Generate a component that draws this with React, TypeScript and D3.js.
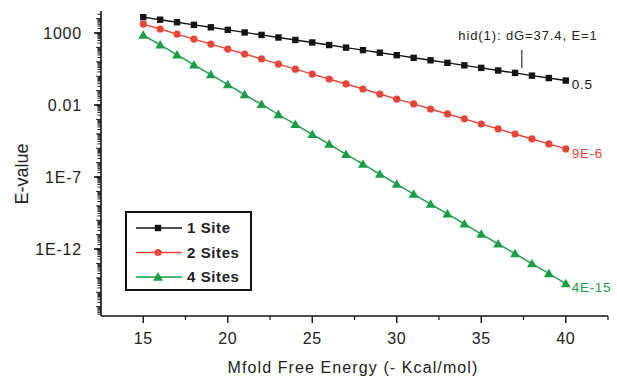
import React from 'react';
import * as d3 from 'd3';

const energies = [15, 16, 17, 18, 19, 20, 21, 22, 23, 24, 25, 26, 27, 28, 29, 30, 31, 32, 33, 34, 35, 36, 37, 38, 39, 40];

const oneSite = [12600, 8400, 5600, 3700, 2500, 1660, 1100, 740, 490, 330, 220, 146, 97, 65, 43, 29, 19, 12.8, 8.5, 5.7, 3.8, 2.5, 1.7, 1.1, 0.75, 0.5];
const twoSites = [4200, 1900, 840, 380, 170, 77, 35, 16, 7, 3.1, 1.4, 0.64, 0.29, 0.13, 0.058, 0.026, 0.012, 0.0053, 0.0024, 0.0011, 4.8e-4, 2.2e-4, 9.7e-5, 4.4e-5, 2.0e-5, 9e-6];
const fourSites = [720, 150, 30, 6.2, 1.3, 0.26, 0.052, 0.011, 2.2e-3, 4.5e-4, 9.1e-5, 1.9e-5, 3.8e-6, 7.8e-7, 1.6e-7, 3.2e-8, 6.6e-9, 1.3e-9, 2.8e-10, 5.6e-11, 1.1e-11, 2.3e-12, 4.8e-13, 9.8e-14, 2.0e-14, 4e-15];

const seriesNames = ['1 Site', '2 Sites', '4 Sites'];
const endLabels = ['0.5', '9E-6', '4E-15'];
const xTicks = [15, 20, 25, 30, 35, 40];
const yTicks = [1000, 0.01, 1e-7, 1e-12];
const yTickLabels = ['1000', '0.01', '1E-7', '1E-12'];

const colors = ['#141414', '#e8453a', '#1a9e48'];
const font = '"Liberation Sans", Arial, sans-serif';

const Marker = ({ kind, x, y, color }: { kind: number; x: number; y: number; color: string }) => {
    if (kind === 0) return <rect x={x - 3.2} y={y - 3.2} width={6.4} height={6.4} fill={color} />;
    if (kind === 1) return <circle cx={x} cy={y} r={3.6} fill={color} />;
    const s = d3.symbol().type(d3.symbolTriangle).size(42)();
    return <path d={s as string} transform={`translate(${x},${y + 0.8})`} fill={color} />;
};

export default function App() {
    const width = 617, height = 379;
    const x = d3.scaleLinear().domain([12.5, 42.5]).range([101, 608]);
    const y = d3.scaleLog().domain([Math.pow(10, -16.65), Math.pow(10, 4.46)]).range([316, 12]);
    const data = [oneSite, twoSites, fourSites];

    const line = d3.line<number>()
        .x((_, i) => x(energies[i]))
        .y(d => y(d));

    // minor ticks on the log axis
    const minor: { v: number; len: number }[] = [];
    for (let e = -17; e <= 4; e++) {
        for (let m = 1; m <= 9; m++) {
            const v = m * Math.pow(10, e);
            const yy = y(v);
            if (yy < 12 || yy > 316) continue;
            minor.push({ v, len: m === 1 ? 5 : 3.5 });
        }
    }
    const xMinor = [17.5, 22.5, 27.5, 32.5, 37.5, 42.5];

    return (
        <svg width={width} height={height} style={{ position: 'fixed', left: 0, top: 0, display: 'block', background: '#fff' }} fontFamily={font}>
            {/* axes */}
            <line x1={101} x2={101} y1={11} y2={316} stroke="#111" strokeWidth={1.6} />
            <line x1={101} x2={608} y1={316} y2={316} stroke="#111" strokeWidth={1.6} />
            {minor.map((t, i) => (
                <line key={i} x1={101 - t.len} x2={101} y1={y(t.v)} y2={y(t.v)} stroke="#222" strokeWidth={1} />
            ))}
            {yTicks.map((t, i) => (
                <g key={i}>
                    <line x1={94} x2={101} y1={y(t)} y2={y(t)} stroke="#111" strokeWidth={1.6} />
                    <text x={82} y={y(t)} dy="0.35em" textAnchor="end" fontSize={16} letterSpacing={0.8} fill="#222">{yTickLabels[i]}</text>
                </g>
            ))}
            {xTicks.map(t => (
                <g key={t}>
                    <line x1={x(t)} x2={x(t)} y1={316} y2={323} stroke="#111" strokeWidth={1.4} />
                    <text x={x(t)} y={338} dy="0.35em" textAnchor="middle" fontSize={16} letterSpacing={0.5} fill="#222">{t}</text>
                </g>
            ))}
            {xMinor.map(t => (
                <line key={t} x1={x(t)} x2={x(t)} y1={316} y2={320} stroke="#111" strokeWidth={1.2} />
            ))}
            <text x={353} y={367} dy="0.35em" textAnchor="middle" fontSize={16} letterSpacing={1.1} fill="#222">Mfold Free Energy (- Kcal/mol)</text>
            <text transform="translate(22,174) rotate(-90)" dy="0.35em" textAnchor="middle" fontSize={18} fill="#222">E-value</text>

            {/* series */}
            {data.map((vals, k) => (
                <g key={k}>
                    <path d={line(vals) as string} fill="none" stroke={colors[k]} strokeWidth={1.4} />
                    {vals.map((v, i) => (
                        <Marker key={i} kind={k} x={x(energies[i])} y={y(v)} color={colors[k]} />
                    ))}
                    <text x={x(40) + 6} y={y(vals[vals.length - 1]) + 4} dy="0.35em" fontSize={13.5} letterSpacing={0.7} fill={colors[k]}>{endLabels[k]}</text>
                </g>
            ))}

            {/* annotation */}
            <line x1={x(37.4)} x2={x(37.4)} y1={50} y2={68} stroke="#333" strokeWidth={1.2} />
            <text x={528} y={35} dy="0.35em" textAnchor="middle" fontSize={13} letterSpacing={0.9} fill="#222">hid(1): dG=37.4, E=1</text>

            {/* legend */}
            <rect x={126} y={212} width={125} height={78} fill="#fff" stroke="#111" strokeWidth={2} />
            {seriesNames.map((n, k) => {
                const ly = 228 + k * 24.5;
                return (
                    <g key={n}>
                        <line x1={136} x2={182} y1={ly} y2={ly} stroke={colors[k]} strokeWidth={1.6} />
                        <Marker kind={k} x={158} y={ly} color={colors[k]} />
                        <text x={187} y={ly} dy="0.35em" fontSize={15} letterSpacing={0.6} fontWeight="bold" fill="#222">{n}</text>
                    </g>
                );
            })}
        </svg>
    );
}
